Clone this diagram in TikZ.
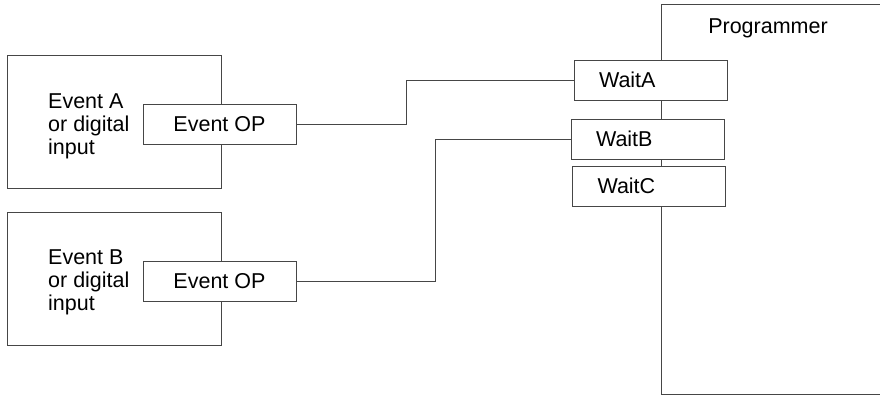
\documentclass[tikz,border=0pt]{standalone}
\usepackage{fontspec}
\setmainfont{Liberation Sans}
\begin{document}
\begin{tikzpicture}[x=1pt,y=-1pt,
  line/.style={draw={rgb,255:red,70;green,70;blue,70},line width=0.9pt},
  txt/.style={font=\fontsize{21.5}{23}\selectfont},
  bigbox/.style={line,rectangle,inner sep=0pt,minimum width=214pt,minimum height=133pt,anchor=north west},
  opbox/.style={line,txt,fill=white,rectangle,inner sep=0pt,minimum width=153pt,minimum height=40pt},
  waitbox/.style={line,txt,fill=white,rectangle,inner ysep=0pt,inner xsep=25pt,text width=103pt,align=left,minimum height=40pt},
  lbl/.style={txt,inner sep=0pt,align=left,anchor=west}]
\useasboundingbox (0,0) rectangle (880,395);
% programmer outline (clipped on the right)
\coordinate (pTR) at (881,4);
\coordinate (pTL) at (661,4);
\coordinate (pBL) at (661,394);
\coordinate (pBR) at (881,394);
\draw[line] (pTR) -- (pTL) -- (pBL) -- (pBR);
\node[txt,inner sep=0pt] (prog) at (768,28) {Programmer};
\node[waitbox] (waitA) at (650.5,80) {WaitA};
\node[waitbox] (waitB) at (647.5,139) {WaitB};
\node[waitbox] (waitC) at (649,186) {WaitC};
% event A
\node[bigbox] (evA) at (7,55) {};
\node[lbl] (evAtext) at (48,126) {Event A\\or digital\\input};
\node[opbox] (opA) at (219.5,124) {Event OP};
% event B
\node[bigbox] (evB) at (7,212) {};
\node[lbl] (evBtext) at (48,282) {Event B\\or digital\\input};
\node[opbox] (opB) at (219.5,281) {Event OP};
% connectors
\draw[line] (opA.east) -- ++(110,0) |- (waitA.west);
\draw[line] (opB.east) -- ++(139,0) |- (waitB.west);
\end{tikzpicture}
\end{document}
